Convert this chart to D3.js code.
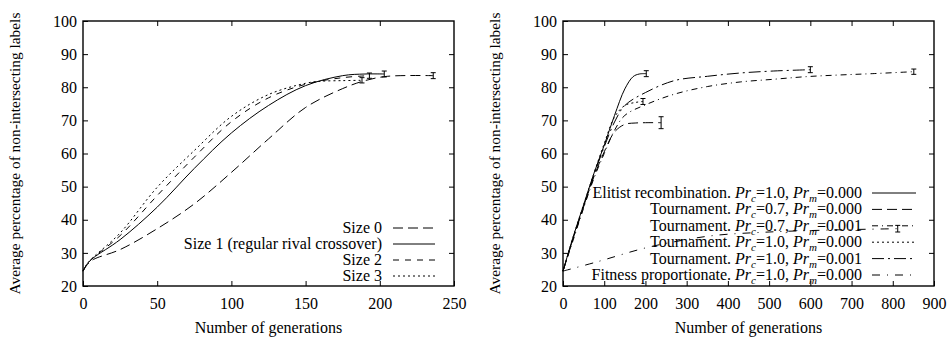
<!DOCTYPE html>
<html><head><meta charset="utf-8">
<script src="https://cdn.jsdelivr.net/npm/d3@7"></script>
<style>
html,body{margin:0;padding:0;background:#fff;}
svg text{font-family:"Liberation Serif","Times New Roman",serif;font-size:16px;fill:#000;}
</style></head>
<body><svg id="c" width="948" height="341"></svg>
<script>
// ---------- Data: left panel ----------
const leftXTicks = [0, 50, 100, 150, 200, 250];
const yTicks = [20, 30, 40, 50, 60, 70, 80, 90, 100];
const size0X = [0, 3, 7, 25, 50, 75, 100, 125, 150, 175, 190, 205, 236];
const size0Y = [24.5, 26.5, 28.0, 31.0, 37.3, 44.8, 54.3, 64.4, 73.9, 79.6, 82.0, 83.3, 83.5];
const size1X = [0, 3, 7, 25, 50, 75, 100, 125, 150, 175, 190, 203];
const size1Y = [24.5, 26.8, 28.5, 34.0, 43.8, 55.5, 66.2, 74.5, 80.5, 83.5, 84.0, 84.0];
const size2X = [0, 3, 7, 25, 50, 75, 100, 125, 150, 175, 193];
const size2Y = [24.5, 26.8, 28.6, 35.2, 47.3, 58.9, 69.6, 76.8, 80.9, 82.9, 83.5];
const size3X = [0, 3, 7, 25, 50, 75, 100, 125, 150, 160, 175, 188];
const size3Y = [24.5, 26.8, 28.7, 36.0, 49.8, 60.9, 71.2, 77.8, 81.2, 81.8, 82.0, 82.1];
const leftErrX = [236, 203, 193, 188];
const leftErrY = [83.5, 84.0, 83.5, 82.1];
const leftErrE = [0.9, 0.9, 0.8, 0.8];
const leftNames = ["Size 0", "Size 1 (regular rival crossover)", "Size 2", "Size 3"];

// ---------- Data: right panel ----------
const rightXTicks = [0, 100, 200, 300, 400, 500, 600, 700, 800, 900];
const eliX = [0, 25, 50, 75, 100, 125, 150, 170, 185, 202];
const eliY = [24.5, 35, 44.5, 54, 62.5, 71.5, 79.5, 83.2, 84.0, 84.1];
const t70X = [0, 25, 50, 75, 100, 125, 150, 175, 200, 238];
const t70Y = [24.5, 34.5, 44, 53, 60.5, 66.5, 68.8, 69.2, 69.3, 69.3];
const t71X = [0, 25, 50, 75, 100, 125, 150, 204, 270, 350, 430, 510, 590, 670, 750, 851];
const t71Y = [24.5, 34, 43.5, 52.5, 60, 67, 71.5, 74.9, 77.9, 80.2, 81.6, 82.4, 83.2, 83.7, 84.1, 84.7];
const t10X = [0, 25, 50, 75, 100, 125, 150, 175, 194];
const t10Y = [24.5, 35, 44.5, 54, 63, 71, 74.5, 75.4, 75.7];
const t11X = [0, 25, 50, 75, 100, 125, 150, 200, 270, 350, 430, 510, 600];
const t11Y = [24.5, 34.5, 44, 53.5, 62, 69.5, 74.5, 78.4, 82, 83.3, 84.3, 84.9, 85.3];
const fitX = [0, 80, 200, 290, 370, 500, 650, 812];
const fitY = [24.5, 27.2, 31.5, 33.8, 35.3, 36.3, 36.9, 37.3];
const rightErrX = [202, 238, 851, 194, 600, 812];
const rightErrY = [84.1, 69.3, 84.7, 75.7, 85.3, 37.3];
const rightErrE = [0.9, 1.8, 0.8, 0.9, 0.9, 1.0];
const rightNamePre = ["Elitist recombination. ", "Tournament. ", "Tournament. ", "Tournament. ", "Tournament. ", "Fitness proportionate. "];
const rightPrc = ["1.0", "0.7", "0.7", "1.0", "1.0", "1.0"];
const rightPrm = ["0.000", "0.000", "0.001", "0.000", "0.001", "0.000"];

const svg = d3.select("#c");

function panel(cfg) {
  const g = svg.append("g");
  const x = d3.scaleLinear().domain(cfg.xDomain).range([cfg.left, cfg.right]);
  const y = d3.scaleLinear().domain([20, 100]).range([286, 21]);
  const tl = 5;
  const axB = d3.axisBottom(x).tickValues(cfg.xTicks).tickSize(-tl).tickPadding(12).tickFormat(d3.format("d"));
  const axT = d3.axisTop(x).tickValues(cfg.xTicks.slice(1, -1)).tickSize(-tl).tickFormat("");
  const axL = d3.axisLeft(y).tickValues(yTicks).tickSize(-tl).tickPadding(6).tickFormat(d3.format("d"));
  const axR = d3.axisRight(y).tickValues(yTicks.slice(1, -1)).tickSize(-tl).tickFormat("");
  [[axB, `translate(0,286)`], [axT, `translate(0,21)`], [axL, `translate(${cfg.left},0)`], [axR, `translate(${cfg.right},0)`]]
    .forEach(([a, t]) => {
      const ag = g.append("g").attr("transform", t).call(a);
      ag.attr("font-family", null).attr("font-size", null);
      ag.select(".domain").remove();
      ag.selectAll("line").attr("stroke", "#000").attr("stroke-width", 1);
      ag.selectAll("text").attr("fill", "#000");
    });
  g.append("rect").attr("x", cfg.left).attr("y", 21).attr("width", cfg.right - cfg.left).attr("height", 265)
    .attr("fill", "none").attr("stroke", "#000").attr("stroke-width", 1.4);
  g.append("text").attr("x", (cfg.left + cfg.right) / 2).attr("y", 333).attr("text-anchor", "middle").text("Number of generations");
  g.append("text").attr("transform", `translate(${cfg.ylabX},${153.5}) rotate(-90)`).attr("text-anchor", "middle")
    .style("font-size", "15.4px")
    .text("Average percentage of non-intersecting labels");

  const line = d3.line().x(d => x(d[0])).y(d => y(d[1])).curve(d3.curveCatmullRom.alpha(0.5));
  cfg.series.forEach(s => {
    g.append("path").datum(d3.zip(s.x, s.y)).attr("d", line).attr("fill", "none")
      .attr("stroke", "#000").attr("stroke-width", 1).attr("stroke-dasharray", s.dash);
  });
  cfg.errX.forEach((ex, i) => {
    const ey = cfg.errY[i], ee = cfg.errE[i];
    const eg = g.append("g").attr("stroke", "#000").attr("stroke-width", 1);
    eg.append("line").attr("x1", x(ex)).attr("x2", x(ex)).attr("y1", y(ey - ee)).attr("y2", y(ey + ee));
    eg.append("line").attr("x1", x(ex) - 2.5).attr("x2", x(ex) + 2.5).attr("y1", y(ey - ee)).attr("y2", y(ey - ee));
    eg.append("line").attr("x1", x(ex) - 2.5).attr("x2", x(ex) + 2.5).attr("y1", y(ey + ee)).attr("y2", y(ey + ee));
  });
  cfg.legend.forEach((L, i) => {
    const ly = cfg.legY0 + i * cfg.legDy;
    const t = g.append("text").attr("x", cfg.legTextX).attr("y", ly + 5).attr("text-anchor", "end");
    L.parts(t);
    g.append("line").attr("x1", cfg.legLineX0).attr("x2", cfg.legLineX1).attr("y1", ly).attr("y2", ly)
      .attr("stroke", "#000").attr("stroke-width", 1).attr("stroke-dasharray", L.dash);
  });
}

const dLong = "10,5", dMed = "6,6", dDot = "2,3";
panel({
  left: 83, right: 454, xDomain: [0, 250], xTicks: leftXTicks, ylabX: 20,
  series: [
    { x: size0X, y: size0Y, dash: dLong },
    { x: size1X, y: size1Y, dash: null },
    { x: size2X, y: size2Y, dash: dMed },
    { x: size3X, y: size3Y, dash: dDot }
  ],
  errX: leftErrX, errY: leftErrY, errE: leftErrE,
  legTextX: 382, legLineX0: 393, legLineX1: 435, legY0: 228, legDy: 16,
  legend: leftNames.map((n, i) => ({ dash: [dLong, null, dMed, dDot][i], parts: t => t.text(n) }))
});

panel({
  left: 563, right: 934, xDomain: [0, 900], xTicks: rightXTicks, ylabX: 500,
  series: [
    { x: eliX, y: eliY, dash: null },
    { x: t70X, y: t70Y, dash: "10,5" },
    { x: t71X, y: t71Y, dash: "6,4,1,4" },
    { x: t10X, y: t10Y, dash: dDot },
    { x: t11X, y: t11Y, dash: "12,4,2,4" },
    { x: fitX, y: fitY, dash: "8,7,1,7" }
  ],
  errX: rightErrX, errY: rightErrY, errE: rightErrE,
  legTextX: 862, legLineX0: 872, legLineX1: 916, legY0: 193, legDy: 16.4,
  legend: rightNamePre.map((n, i) => ({
    dash: [null, "10,5", "6,4,1,4", dDot, "12,4,2,4", "8,7,1,7"][i],
    parts: t => {
      t.append("tspan").text(n);
      t.append("tspan").attr("font-style", "italic").text("Pr");
      t.append("tspan").attr("font-style", "italic").style("font-size", "11px").attr("dy", 4).text("c");
      t.append("tspan").attr("dy", -4).text("=" + rightPrc[i] + ", ");
      t.append("tspan").attr("font-style", "italic").text("Pr");
      t.append("tspan").attr("font-style", "italic").style("font-size", "11px").attr("dy", 4).text("m");
      t.append("tspan").attr("dy", -4).text("=" + rightPrm[i]);
    }
  }))
});
</script></body></html>
